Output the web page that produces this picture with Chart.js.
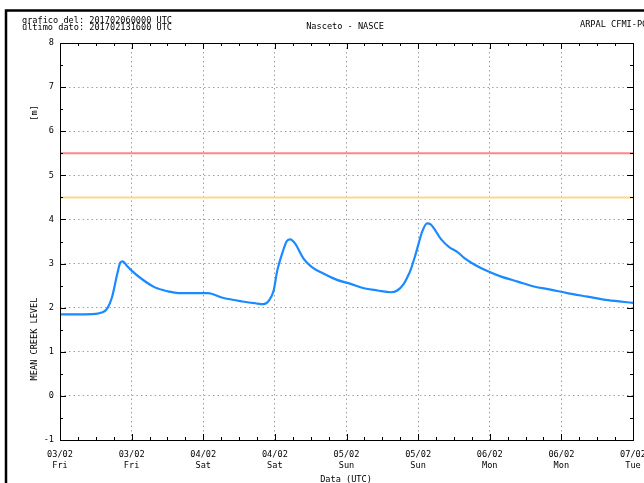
<!DOCTYPE html>
<html>
<head>
<meta charset="utf-8">
<script src="https://cdn.jsdelivr.net/npm/chart.js@4.4.1/dist/chart.umd.min.js"></script>
<style>
  html, body { margin: 0; padding: 0; background: #fff; }
  #wrap { position: relative; width: 644px; height: 483px; }
</style>
</head>
<body>
<div id="wrap"><canvas id="c" width="644" height="483"></canvas></div>
<script>
// ── data ─────────────────────────────────────────────────────────────────────
// hours since 03/02 00:00 UTC
const hours = [0, 3.4, 5.9, 7.0, 7.9, 8.7, 9.6, 10.1, 10.5, 11.2, 12.0, 13.7, 15.9, 18.1, 19.8,
    24.8, 27.1, 30.5, 32.7, 34.1, 35.0, 35.8, 36.4, 37.2, 38.0, 38.6, 39.4, 40.8, 42.2, 44.2,
    46.4, 48.7, 50.9, 53.2, 55.4, 56.5, 57.6, 58.2, 58.7, 59.6, 60.7, 61.5, 62.1, 63.8, 65.2,
    66.6, 67.7, 69.4, 71.6, 73.8, 76.7, 79.4, 82.2, 85.0, 88.4, 91.8, 96];
const levels = [1.85, 1.85, 1.86, 1.89, 1.98, 2.23, 2.77, 3.02, 3.05, 2.95, 2.84, 2.65, 2.46, 2.37, 2.33,
    2.33, 2.23, 2.14, 2.10, 2.08, 2.16, 2.39, 2.84, 3.22, 3.51, 3.55, 3.45, 3.11, 2.92, 2.77,
    2.63, 2.54, 2.44, 2.39, 2.35, 2.39, 2.54, 2.69, 2.84, 3.22, 3.73, 3.91, 3.89, 3.56, 3.37,
    3.26, 3.13, 2.98, 2.83, 2.71, 2.59, 2.48, 2.41, 2.33, 2.25, 2.17, 2.11];

const tickDates = ['03/02', '03/02', '04/02', '04/02', '05/02', '05/02', '06/02', '06/02', '07/02'];
const tickDays  = ['Fri', 'Fri', 'Sat', 'Sat', 'Sun', 'Sun', 'Mon', 'Mon', 'Tue'];

const alarmLevel = 5.5;   // red
const warnLevel  = 4.5;   // orange

const FONT = '"DejaVu Sans Mono", "Liberation Mono", monospace';

// ── frame, labels and tick marks (gnuplot style) ─────────────────────────────
const decor = {
    id: 'decor',
    afterDraw(chart) {
        const ctx = chart.ctx;
        const a = chart.chartArea;
        const xs = chart.scales.x, ys = chart.scales.y;
        ctx.save();

        // outer black frame
        ctx.strokeStyle = '#000';
        ctx.lineWidth = 2.5;
        ctx.strokeRect(6, 10.5, 800, 700);

        // plot frame
        ctx.lineWidth = 1;
        ctx.strokeRect(a.left + 0.5, a.top + 0.5, a.right - a.left, a.bottom - a.top);

        // tick marks on all four sides
        ctx.beginPath();
        for (let h = 0; h <= 96; h += 3) {
            const px = Math.round(xs.getPixelForValue(h)) + 0.5;
            const len = h % 12 === 0 ? 6 : 3;
            ctx.moveTo(px, a.bottom); ctx.lineTo(px, a.bottom - len);
            ctx.moveTo(px, a.top); ctx.lineTo(px, a.top + len);
        }
        for (let v = -1; v <= 8; v += 0.5) {
            const py = Math.round(ys.getPixelForValue(v)) + 0.5;
            const len = Number.isInteger(v) ? 6 : 3;
            ctx.moveTo(a.left, py); ctx.lineTo(a.left + len, py);
            ctx.moveTo(a.right, py); ctx.lineTo(a.right - len, py);
        }
        ctx.stroke();

        // texts
        ctx.fillStyle = '#000';
        ctx.font = '8.6px ' + FONT;
        ctx.textBaseline = 'middle';
        ctx.textAlign = 'left';
        ctx.fillText('grafico del: 201702060000 UTC', 22, 21);
        ctx.fillText('ultimo dato: 201702131600 UTC', 22, 28);
        ctx.textAlign = 'center';
        ctx.fillText('Nasceto - NASCE', 345, 27);
        ctx.fillText('Data (UTC)', 346, 480);
        ctx.textAlign = 'left';
        ctx.fillText('ARPAL CFMI-PC', 580, 25);

        ctx.save();
        ctx.translate(35, 113);
        ctx.rotate(-Math.PI / 2);
        ctx.textAlign = 'center';
        ctx.fillText('[m]', 0, 0);
        ctx.restore();

        ctx.save();
        ctx.translate(35, 339);
        ctx.rotate(-Math.PI / 2);
        ctx.textAlign = 'center';
        ctx.fillText('MEAN CREEK LEVEL', 0, 0);
        ctx.restore();

        ctx.restore();
    }
};

const toPts = (xsArr, ysArr) => xsArr.map((x, i) => ({ x: x, y: ysArr[i] }));

new Chart(document.getElementById('c'), {
    type: 'line',
    data: {
        datasets: [
            {
                label: 'alarm',
                data: [{ x: 0, y: alarmLevel }, { x: 96, y: alarmLevel }],
                borderColor: 'rgb(255,135,135)',
                borderWidth: 2,
                pointRadius: 0
            },
            {
                label: 'warning',
                data: [{ x: 0, y: warnLevel }, { x: 96, y: warnLevel }],
                borderColor: 'rgb(255,215,140)',
                borderWidth: 2,
                pointRadius: 0
            },
            {
                label: 'level',
                data: toPts(hours, levels),
                borderColor: 'rgb(25,138,255)',
                borderWidth: 2.2,
                pointRadius: 0,
                cubicInterpolationMode: 'monotone'
            }
        ]
    },
    options: {
        responsive: false,
        animation: false,
        devicePixelRatio: 1,
        layout: { padding: { top: 43, left: 0, right: 11, bottom: 0 } },
        plugins: { legend: { display: false }, tooltip: { enabled: false } },
        scales: {
            x: {
                type: 'linear',
                min: 0, max: 96,
                afterBuildTicks: s => { s.ticks = tickDates.map((d, i) => ({ value: i * 12 })); },
                afterFit: s => { s.height = 43; s.paddingLeft = 0; s.paddingRight = 0; },
                ticks: {
                    autoSkip: false,
                    maxRotation: 0,
                    padding: 10,
                    color: '#000',
                    font: { family: FONT, size: 8.6, lineHeight: 1.2 },
                    callback: v => [tickDates[v / 12], tickDays[v / 12]]
                },
                grid: { color: '#a0a0a0', drawTicks: false },
                border: { display: false, dash: [1.5, 3] }
            },
            y: {
                min: -1, max: 8,
                afterFit: s => { s.width = 60; s.paddingTop = 0; s.paddingBottom = 0; },
                ticks: {
                    stepSize: 1,
                    padding: 6,
                    color: '#000',
                    font: { family: FONT, size: 8.6 }
                },
                grid: { color: '#a0a0a0', drawTicks: false },
                border: { display: false, dash: [1.5, 3] }
            }
        }
    },
    plugins: [decor]
});
</script>
</body>
</html>
